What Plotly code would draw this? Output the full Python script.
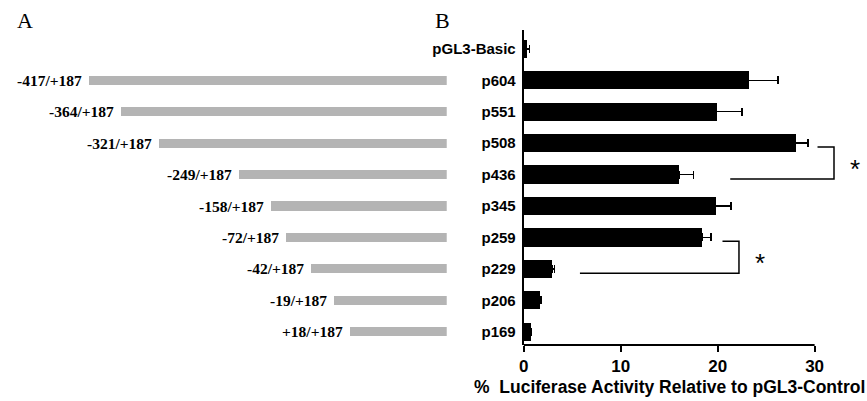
import plotly.graph_objects as go

# ---- data ----
constructs = ["pGL3-Basic", "p604", "p551", "p508", "p436", "p345",
              "p259", "p229", "p206", "p169"]
activity = [0.3, 23.2, 19.9, 28.0, 16.0, 19.8, 18.4, 2.9, 1.6, 0.7]
activity_err = [0.3, 3.0, 2.6, 1.3, 1.5, 1.6, 0.9, 0.3, 0.2, 0.1]

fragment_labels = ["-417/+187", "-364/+187", "-321/+187", "-249/+187",
                   "-158/+187", "-72/+187", "-42/+187", "-19/+187", "+18/+187"]
# schematic length of each promoter fragment (diagram units)
fragment_len = [360, 328, 289, 209, 177, 162, 137, 113, 97]

x_ticks = [0, 10, 20, 30]
x_max_tick = 30
# significance brackets: (upper row, lower row, top arm start, bottom arm start, spine x)
brackets = [(3, 4, 30.3, 21.3, 32.0),
            (6, 7, 20.5, 5.8, 22.2)]

W, H = 867, 401
SANS = "Liberation Sans, Arial, sans-serif"
SERIF = "Liberation Serif, Times New Roman, serif"

rows = list(range(len(constructs)))
frag_rows = rows[1:]

fig = go.Figure()

# panel B: luciferase activity
fig.add_trace(go.Bar(
    x=activity, y=rows, orientation="h",
    marker=dict(color="black", line=dict(width=0)),
    width=0.58,
    error_x=dict(type="data", array=activity_err,
                 arrayminus=[0] * len(activity_err), symmetric=False,
                 color="black", thickness=1.5, width=4),
    xaxis="x", yaxis="y", showlegend=False,
))

# panel A: promoter deletion constructs
fig.add_trace(go.Bar(
    x=fragment_len, y=frag_rows, orientation="h",
    marker=dict(color="#b4b4b4", line=dict(width=0)),
    width=0.29,
    xaxis="x2", yaxis="y", showlegend=False,
))

x_px0, x_px1 = 521.7, 867.0
px_per_unit = (814.3 - 521.7) / x_max_tick
x_range_max = (x_px1 - x_px0) / px_per_unit
y_top_px, y_bot_px = 30.0, 345.0
a_end_px = 444.3

fig.update_layout(
    width=W, height=H,
    margin=dict(l=0, r=0, t=0, b=0),
    paper_bgcolor="white", plot_bgcolor="white",
    bargap=0,
    xaxis=dict(
        domain=[x_px0 / W, 1.0], range=[0, x_range_max],
        tickvals=x_ticks, ticktext=[str(t) for t in x_ticks],
        ticks="outside", ticklen=6, tickwidth=2, tickcolor="black",
        showline=False, showgrid=False, zeroline=False,
        tickfont=dict(family=SANS, size=17, color="black", weight="bold"),
        anchor="y",
    ),
    xaxis2=dict(
        domain=[0, a_end_px / W], range=[a_end_px, 0],
        visible=False, anchor="y",
    ),
    yaxis=dict(
        domain=[1 - y_bot_px / H, 1 - y_top_px / H],
        range=[9.42, -0.6],
        tickvals=rows, ticktext=constructs,
        ticks="", showline=True, linecolor="black", linewidth=2,
        showgrid=False, zeroline=False, ticklabelstandoff=3,
        tickfont=dict(family=SANS, size=15, color="black", weight="bold"),
        anchor="x",
    ),
)

# x axis line ends at the last tick
fig.add_shape(type="line", xref="x", yref="y domain",
              x0=0, x1=x_max_tick, y0=0, y1=0,
              line=dict(color="black", width=2))

# significance brackets and asterisks
for r_top, r_bot, x_top, x_bot, x_sp in brackets:
    yt, yb = r_top + 0.12, r_bot + 0.14
    path = f"M {x_top} {yt} L {x_sp} {yt} L {x_sp} {yb} L {x_bot} {yb}"
    fig.add_shape(type="path", xref="x", yref="y", path=path,
                  line=dict(color="black", width=1.5))
    fig.add_annotation(xref="x", yref="y", x=x_sp + 2.2, y=(yt + yb) / 2,
                       yshift=-6, text="*", showarrow=False,
                       font=dict(family=SANS, size=26, color="black"))

# fragment labels to the left of each construct
for lab, ln, r in zip(fragment_labels, fragment_len, frag_rows):
    fig.add_annotation(xref="x2", yref="y", x=ln, y=r, xshift=-5,
                       xanchor="right", yanchor="middle", text=lab,
                       showarrow=False,
                       font=dict(family=SERIF, size=15.5, color="black",
                                 weight="bold"))

# axis title
fig.add_annotation(xref="x", yref="paper", x=x_max_tick / 2, y=1 - 387 / H,
                   text="%  Luciferase Activity Relative to pGL3-Control",
                   showarrow=False, yanchor="middle",
                   font=dict(family=SANS, size=17.5, color="black", weight="bold"))

# panel letters
fig.add_annotation(xref="paper", yref="paper", x=10 / W, y=1 - 20 / H,
                   text="A", showarrow=False, xanchor="left", yanchor="middle",
                   font=dict(family=SERIF, size=22, color="black"))
fig.add_annotation(xref="paper", yref="paper", x=430 / W, y=1 - 20 / H,
                   text="B", showarrow=False, xanchor="left", yanchor="middle",
                   font=dict(family=SERIF, size=22, color="black"))

fig.write_html("out.html")
